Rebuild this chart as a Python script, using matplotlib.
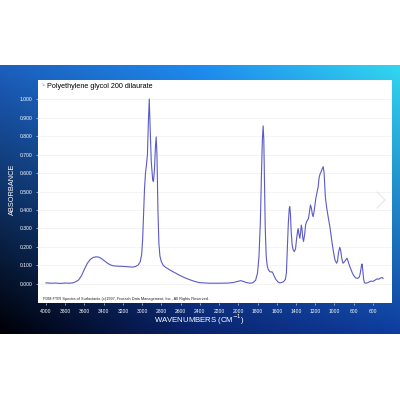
import numpy as np
import matplotlib.pyplot as plt
from matplotlib.lines import Line2D

plt.rcParams['font.family'] = ['Liberation Sans', 'DejaVu Sans']

title = 'Polyethylene glycol 200 dilaurate'
footer = ('FDM FTIR Spectra of Surfactants (c)1997, Fiveash Data Management, '
          'Inc., All Rights Reserved.')
x_ticks = [4000, 3800, 3600, 3400, 3200, 3000, 2800, 2600, 2400, 2200,
           2000, 1800, 1600, 1400, 1200, 1000, 800, 600]
y_ticks = [0.0, 0.1, 0.2, 0.3, 0.4, 0.5, 0.6, 0.7, 0.8, 0.9, 1.0]

wavenumber = [
    4000, 3950, 3900, 3850, 3800, 3760, 3720, 3690, 3660, 3630, 3600, 3570,
    3540, 3510, 3480, 3450, 3420, 3390, 3360, 3330, 3300, 3250, 3200, 3150,
    3100, 3070, 3040, 3020, 3005, 2995, 2985, 2975, 2965, 2955, 2945, 2935,
    2926, 2918, 2905, 2890, 2882, 2872, 2862, 2854, 2846, 2836, 2826, 2815,
    2800, 2780, 2750, 2700, 2650, 2600, 2550, 2500, 2450, 2400, 2300, 2200,
    2100, 2050, 2000, 1975, 1950, 1920, 1880, 1850, 1820, 1800, 1785, 1770,
    1760, 1750, 1742, 1735, 1728, 1720, 1710, 1700, 1690, 1675, 1660, 1650,
    1640, 1625, 1610, 1590, 1570, 1550, 1530, 1510, 1500, 1490, 1480, 1470,
    1465, 1458, 1450, 1440, 1430, 1418, 1405, 1395, 1385, 1378, 1370, 1360,
    1352, 1345, 1338, 1330, 1322, 1310, 1300, 1290, 1280, 1270, 1260, 1250,
    1240, 1230, 1222, 1210, 1195, 1180, 1170, 1160, 1150, 1140, 1130, 1117,
    1108, 1095, 1083, 1065, 1048, 1030, 1014, 995, 978, 968, 958, 945,
    935, 925, 912, 900, 885, 870, 860, 845, 830, 815, 800, 780,
    760, 745, 735, 725, 718, 712, 705, 698, 690, 680, 665, 650,
    635, 620, 600, 580, 560, 540, 520, 505, 495]
absorbance = [
    0.006, 0.004, 0.005, 0.003, 0.005, 0.004, 0.006, 0.012, 0.022, 0.045, 0.080, 0.112,
    0.132, 0.143, 0.147, 0.145, 0.136, 0.124, 0.112, 0.103, 0.098, 0.096, 0.095, 0.093,
    0.091, 0.094, 0.103, 0.120, 0.160, 0.240, 0.380, 0.520, 0.600, 0.645, 0.700, 0.880,
    1.000, 0.860, 0.660, 0.560, 0.555, 0.620, 0.740, 0.795, 0.700, 0.400, 0.220, 0.150,
    0.120, 0.100, 0.088, 0.072, 0.058, 0.044, 0.032, 0.022, 0.013, 0.007, 0.004, 0.004,
    0.005, 0.008, 0.015, 0.018, 0.014, 0.008, 0.004, 0.006, 0.020, 0.060, 0.150, 0.350,
    0.580, 0.780, 0.855, 0.780, 0.550, 0.300, 0.150, 0.100, 0.080, 0.068, 0.064, 0.066,
    0.058, 0.040, 0.025, 0.012, 0.006, 0.008, 0.012, 0.025, 0.060, 0.200, 0.330, 0.410,
    0.418, 0.380, 0.280, 0.210, 0.185, 0.175, 0.190, 0.240, 0.280, 0.300, 0.270, 0.247,
    0.280, 0.318, 0.300, 0.250, 0.230, 0.270, 0.320, 0.337, 0.345, 0.355, 0.390, 0.427,
    0.410, 0.375, 0.364, 0.400, 0.460, 0.500, 0.525, 0.575, 0.595, 0.605, 0.620, 0.634,
    0.600, 0.470, 0.418, 0.360, 0.310, 0.240, 0.184, 0.130, 0.112, 0.125, 0.170, 0.198,
    0.180, 0.140, 0.112, 0.118, 0.128, 0.139, 0.125, 0.100, 0.080, 0.060, 0.045, 0.033,
    0.030, 0.035, 0.050, 0.080, 0.105, 0.108, 0.070, 0.030, 0.008, 0.004, 0.005, 0.008,
    0.012, 0.015, 0.014, 0.020, 0.027, 0.026, 0.032, 0.035, 0.030]

fig = plt.figure(figsize=(4, 4), dpi=100)
fig.patch.set_facecolor('white')

# gradient band behind the chart
top = np.array([[28, 95, 190], [30, 140, 240], [50, 215, 240]]) / 255
bot = np.array([[0, 0, 5], [10, 35, 110], [15, 60, 160]]) / 255
u = np.linspace(0, 1, 200)
v = np.linspace(0, 1, 120)[:, None, None]
top_row = np.stack([np.interp(u, [0, 0.5, 1], top[:, c]) for c in range(3)], axis=-1)
bot_row = np.stack([np.interp(u, [0, 0.5, 1], bot[:, c]) for c in range(3)], axis=-1)
grad = top_row[None] * (1 - v) + bot_row[None] * v
bg = fig.add_axes([0, 66 / 400, 1, 269 / 400])
bg.imshow(grad, aspect='auto', extent=[0, 1, 0, 1])
bg.axis('off')

ax = fig.add_axes([38 / 400, 97 / 400, 354 / 400, 223 / 400])
ax.set_facecolor('white')
ax.plot(wavenumber, absorbance, color='#5a5ac8', linewidth=0.8)
ax.set_xlim(4083, 402)
ax.set_ylim(-0.103, 1.103)
ax.set_xticks(x_ticks)
ax.set_yticks(y_ticks)
ax.set_yticklabels([f'{t:.3f}' for t in y_ticks])
ax.tick_params(colors='white', labelsize=3.6, length=1.5, width=0.4)
ax.tick_params(axis='x', pad=2.5)
ax.tick_params(axis='y', pad=2.5)
ax.grid(axis='y', color='#f0f0f0', linewidth=0.5)
for s in ax.spines.values():
    s.set_visible(False)

fig.text(199 / 400, 1 - 320 / 400, 'WAVENUMBERS (CM$^{-1}$)', color='white',
         fontsize=5.6, ha='center', va='center')
fig.text(12 / 400, 1 - 189 / 400, 'ABSORBANCE', color='white', fontsize=5.3,
         rotation=90, ha='center', va='center')

fig.text(47 / 400, 1 - 86 / 400, title, fontsize=5.2, color='black',
         ha='left', va='center')
fig.text(42 / 400, 1 - 85 / 400, '↘', fontsize=3.5, color='#999999',
         ha='center', va='center', family=['DejaVu Sans'])
fig.text(43 / 400, 1 - 299 / 400, footer, fontsize=2.8, color='#222222',
         ha='left', va='center')

# carousel chevron
fig.add_artist(Line2D([377 / 400, 385 / 400, 377 / 400],
                      [1 - 192 / 400, 1 - 200 / 400, 1 - 208 / 400],
                      color='#e6e6e6', linewidth=0.8))

fig.savefig('out.png', dpi=100)
